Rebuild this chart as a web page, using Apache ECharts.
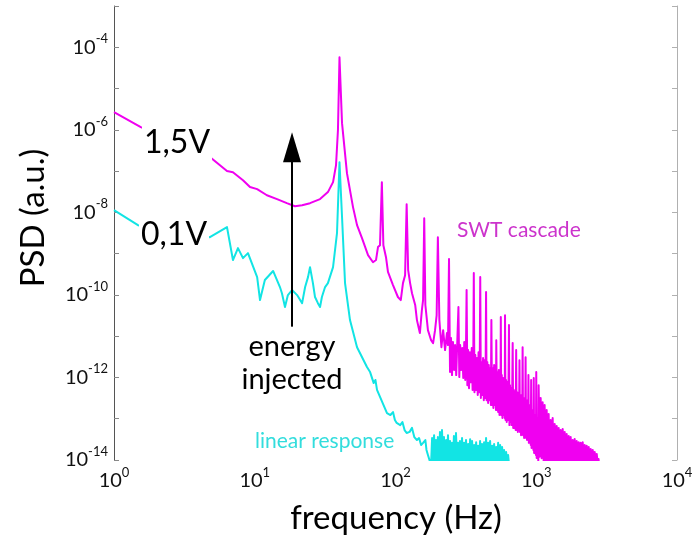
<!DOCTYPE html>
<html>
<head>
<meta charset="utf-8">
<script src="https://cdn.jsdelivr.net/npm/echarts@6/dist/echarts.min.js"></script>
<style>
  html, body { margin: 0; padding: 0; background: #fff; }
  #chart { width: 694px; height: 538px; }
</style>
</head>
<body>
<div id="chart"></div>
<script>
// Power spectral density of the surface-wave signal at two drive amplitudes.
// Frequencies in Hz, PSD in arbitrary units.

// 1,5 V drive: carrier at 40 Hz plus its harmonic cascade (one row per harmonic gap above 240 Hz)
const freq15 = [
  1, 1.55, 4.8, 6.35, 7.0, 8.25, 9.25, 10.4, 12.2, 14.4, 16.9, 19.3, 21.7, 24.7, 29.1, 33.1, 36.0, 37.8, 39.0, 40,
  41.7, 45.2, 49.9, 53.3, 57.8, 63.8, 69.2, 72.7, 75.1, 77.6, 80, 82, 85.6, 88.4, 96, 104, 109, 113, 117, 120,
  123, 127, 131, 138, 142, 149, 154, 157, 160, 163, 170, 179, 185, 191, 196, 200, 205, 212, 218, 225,
  232, 236, 240,
  244, 248, 252, 256, 261, 265, 270, 275, 280,
  284, 288, 293, 298, 303, 308, 313, 317, 320,
  324, 328, 333, 338, 343, 348, 353, 357, 360,
  364, 369, 374, 379, 384, 389, 394, 397, 400,
  404, 409, 414, 419, 424, 429, 434, 437, 440,
  444, 449, 455, 460, 466, 471, 476, 480,
  485, 490, 496, 502, 508, 513, 517, 520,
  525, 530, 536, 542, 548, 554, 557, 560,
  564, 569, 575, 581, 587, 593, 597, 600,
  605, 611, 617, 623, 629, 635, 640,
  645, 651, 657, 663, 669, 675, 680,
  686, 693, 700, 707, 714, 720,
  726, 733, 740, 747, 754, 760,
  766, 773, 780, 787, 794, 800,
  806, 813, 820, 827, 834, 840,
  846, 853, 860, 867, 874, 880,
  886, 893, 900, 907, 914, 920,
  926, 933, 940, 947, 954, 960,
  966, 973, 980, 987, 994, 1000,
  1007, 1014, 1021, 1028, 1034, 1040,
  1057, 1075, 1092, 1110, 1129, 1147, 1166, 1186, 1205, 1225,
  1245, 1266, 1287, 1308, 1330, 1352, 1374, 1397, 1420, 1443,
  1467, 1491, 1516, 1541, 1566, 1592, 1618, 1645, 1672, 1700,
  1728, 1756, 1785, 1815, 1845, 1875, 1906, 1938, 1970, 2002,
  2035, 2069, 2103, 2138, 2173, 2209, 2246, 2283, 2320, 2359,
  2398, 2437, 2478, 2519, 2560, 2602, 2645, 2689, 2734, 2770,
  2790
];
const psd15 = [
  2.7e-6, 1.16e-6, 2.2e-7, 1.0e-7, 9.4e-8, 6.0e-8, 4.1e-8, 3.65e-8, 2.6e-8, 2.1e-8, 1.67e-8, 1.41e-8, 1.49e-8, 1.67e-8, 2.1e-8, 3.1e-8, 5.4e-8, 1.39e-7, 9.8e-7, 5.7e-5,
  1.45e-6, 8.9e-8, 1.34e-8, 4.9e-9, 2.37e-9, 9.2e-10, 6.2e-10, 7.0e-10, 1.44e-9, 1.6e-9, 5.4e-8, 1.6e-9, 8.2e-10, 3.6e-10, 1.73e-10, 8.9e-11, 7.5e-11, 1.93e-10, 3.0e-10, 1.58e-8,
  4.0e-10, 1.93e-10, 1.1e-10, 5.7e-11, 2.45e-11, 1.19e-11, 4.3e-11, 7.5e-11, 7.2e-9, 5.7e-11, 1.4e-11, 8.0e-12, 6.8e-12, 1.4e-11, 3.2e-11, 2.5e-9, 2.45e-11, 5.4e-12, 1.4e-11, 4.6e-12,
  1.19e-11, 6.1e-12, 7.4e-10,
  1.35e-12, 9.0e-12, 1.14e-12, 7.2e-12, 1.51e-12, 6.1e-12, 1.14e-12, 8.0e-12, 5.1e-11,
  1.02e-12, 6.1e-12, 1.51e-12, 5.15e-12, 9.7e-13, 7.2e-12, 8.7e-13, 6.1e-12, 1.31e-10,
  6.5e-13, 4.6e-12, 5.5e-13, 4.1e-12, 7.7e-13, 5.15e-12, 5.0e-13, 3.5e-12, 3.4e-10,
  4.4e-13, 3.5e-12, 5.0e-13, 2.95e-12, 3.75e-13, 4.1e-12, 4.4e-13, 2.6e-12, 2.7e-10,
  3.17e-13, 2.36e-12, 3.75e-13, 2.95e-12, 2.8e-13, 2.6e-12, 3.17e-13, 2.0e-12, 1.17e-10,
  2.8e-13, 2.36e-12, 2.4e-13, 2.0e-12, 2.8e-13, 1.69e-12, 2.15e-13, 2.45e-11,
  2.15e-13, 1.69e-12, 1.82e-13, 2.0e-12, 2.15e-13, 1.51e-12, 1.62e-13, 8.0e-12,
  1.62e-13, 1.35e-12, 1.45e-13, 1.51e-12, 1.23e-13, 1.14e-12, 1.45e-13, 2.9e-11,
  1.23e-13, 1.14e-12, 1.04e-13, 9.7e-13, 1.23e-13, 8.7e-13, 1.04e-13, 3.2e-11,
  9.3e-14, 8.7e-13, 8.3e-14, 7.7e-13, 9.3e-14, 6.5e-13, 1.86e-11,
  7.0e-14, 6.5e-13, 8.3e-14, 5.5e-13, 7.0e-14, 5.0e-13, 6.8e-12,
  6.0e-14, 5.0e-13, 6.0e-14, 4.4e-13, 5.3e-14, 4.6e-12,
  5.3e-14, 4.4e-13, 4.8e-14, 3.75e-13, 5.3e-14, 2.6e-12,
  4.8e-14, 3.75e-13, 4.0e-14, 3.17e-13, 4.8e-14, 5.4e-12,
  4.0e-14, 3.17e-13, 3.4e-14, 2.8e-13, 4.0e-14, 3.1e-12,
  3.4e-14, 2.8e-13, 3.05e-14, 2.4e-13, 3.4e-14, 1.14e-12,
  2.6e-14, 2.15e-13, 3.05e-14, 1.82e-13, 2.3e-14, 8.7e-13,
  1.95e-14, 1.62e-13, 2.3e-14, 1.45e-13, 1.75e-14, 9.7e-13,
  1.48e-14, 1.23e-13, 1.75e-14, 1.23e-13, 1.32e-14, 1.35e-12,
  1.12e-14, 1.04e-13, 1.32e-14, 9.3e-14, 8e-15, 6.5e-13,
  1.2e-14, 3.17e-13, 1.1e-14, 2.5e-13, 8e-15, 2.15e-13, 8e-15, 1.62e-13, 8e-15, 1.3e-13,
  8e-15, 9.3e-14, 8e-15, 1.04e-13, 8e-15, 7.4e-14, 8e-15, 6.65e-14, 8e-15, 6.0e-14,
  8e-15, 5.3e-14, 8e-15, 5.6e-14, 8e-15, 4.8e-14, 8e-15, 4.27e-14, 8e-15, 3.8e-14,
  8e-15, 3.6e-14, 8e-15, 3.05e-14, 8e-15, 3.22e-14, 8e-15, 2.88e-14, 8e-15, 2.7e-14,
  8e-15, 2.6e-14, 8e-15, 2.7e-14, 8e-15, 2.3e-14, 8e-15, 2.2e-14, 8e-15, 2.06e-14,
  8e-15, 1.85e-14, 8e-15, 1.75e-14, 8e-15, 1.56e-14, 8e-15, 1.4e-14, 8e-15, 1.06e-14,
  8e-15
];

// 0,1 V drive: linear response around the 40 Hz carrier, then the noise floor
const freq01 = [
  1, 1.48, 4.8, 6.35, 7.0, 7.6, 8.25, 8.95, 10.4, 10.9, 11.8, 13.5, 15.1, 15.6, 16.4,
  17.2, 18.4, 20.0, 21.7, 22.8, 23.9, 24.7, 25.9, 26.8, 28.1, 29.1, 30.0, 31.6, 33.1, 36.0,
  38.4, 40, 41.7, 43.8, 47.5, 53.3, 62.7, 66, 70, 72, 73.9, 87, 92, 96, 99, 102,
  108, 112, 116, 120, 126, 131, 136, 142, 147, 152, 157, 163, 166, 170, 176,
  179, 182, 185, 188, 191, 194, 197, 200, 204, 207,
  211, 214, 218, 221, 225, 229, 232, 236, 240, 244,
  248, 252, 256, 260, 265, 269, 274, 278, 283, 287,
  292, 297, 302, 307, 312, 317, 322, 328, 333, 339,
  344, 350, 356, 362, 368, 374, 380, 386, 393, 399,
  406, 412, 419, 426, 433, 440, 448, 455, 463, 470,
  478, 486, 494, 502, 510, 519, 527, 536, 545, 554,
  563, 572, 582, 591, 601, 611, 621, 631, 640
];
const psd01 = [
  1.13e-8, 4.9e-9, 2.5e-9, 4.4e-9, 7.0e-10, 1.36e-9, 7.8e-10, 1.03e-9, 2.7e-10, 7.5e-11, 2.3e-10, 3.8e-10, 1.55e-10, 1.1e-10, 5.1e-11,
  9.9e-11, 1.31e-10, 9.9e-11, 6.3e-11, 1.55e-10, 2.7e-10, 4.7e-10, 1.93e-10, 8.9e-11, 6.3e-11, 5.1e-11, 8.9e-11, 1.55e-10, 1.93e-10, 4.7e-10,
  3.13e-9, 1.64e-7, 7.7e-9, 1.93e-10, 2.45e-11, 5.4e-12, 1.79e-12, 1.35e-12, 7.3e-13, 8.7e-13, 5.0e-13, 1.37e-13, 1.23e-13, 1.45e-13, 9.3e-14, 7.9e-14,
  7.0e-14, 8.3e-14, 5.3e-14, 4.5e-14, 4.8e-14, 6.0e-14, 3.6e-14, 3.05e-14, 3.4e-14, 2.3e-14, 2.6e-14, 3.05e-14, 1.75e-14, 1.32e-14, 9e-15,
  8e-15, 3.4e-14, 8e-15, 4.0e-14, 8e-15, 3.05e-14, 8e-15, 3.6e-14, 8e-15, 4.8e-14,
  8e-15, 5.3e-14, 8e-15, 3.6e-14, 8e-15, 3.05e-14, 8e-15, 4.0e-14, 8e-15, 2.9e-14,
  8e-15, 2.6e-14, 8e-15, 3.8e-14, 8e-15, 4.5e-14, 8e-15, 2.6e-14, 8e-15, 2.9e-14,
  8e-15, 3.4e-14, 8e-15, 2.6e-14, 8e-15, 3.05e-14, 8e-15, 2.44e-14, 8e-15, 3.2e-14,
  8e-15, 2.9e-14, 8e-15, 2.3e-14, 8e-15, 2.7e-14, 8e-15, 2.2e-14, 8e-15, 2.9e-14,
  8e-15, 2.44e-14, 8e-15, 2.7e-14, 8e-15, 3.4e-14, 8e-15, 2.6e-14, 8e-15, 2.9e-14,
  8e-15, 2.2e-14, 8e-15, 2.44e-14, 8e-15, 2.06e-14, 8e-15, 2.6e-14, 8e-15, 2.3e-14,
  8e-15, 2.06e-14, 8e-15, 1.75e-14, 8e-15, 1.56e-14, 8e-15, 1.32e-14, 8e-15
];

// Axis ranges (powers of ten)
const xMinExp = 0, xMaxExp = 4;
const yMinExp = -14, yMaxExp = -3;

// "energy injected" arrow, in data units
const arrowFreq = 18.4;
const arrowFrom = 1.7e-11;
const arrowTo = 8.7e-7;

const MAGENTA = '#f000f0';
const CYAN = '#12e4e4';
const FONT = 'Lato';

const pairs = (f, p) => f.map((v, i) => [v, p[i]]);

function powLabel(v, everyOther) {
  const e = Math.round(Math.log10(v));
  if (everyOther && e % 2 !== 0) return '';
  return '{b|10}{s|' + e + '}';
}
const richPow = {
  b: { fontSize: 20, fontFamily: FONT, lineHeight: 30, color: '#111' },
  s: { fontSize: 13, fontFamily: FONT, lineHeight: 14, verticalAlign: 'top', color: '#111' }
};

const chart = echarts.init(document.getElementById('chart'), null, { renderer: 'canvas' });

chart.setOption({
  animation: false,
  backgroundColor: '#fff',
  grid: { left: 114, right: 17, top: 6, bottom: 78, containLabel: false, outerBoundsMode: 'none' },
  xAxis: {
    type: 'log', logBase: 10,
    min: Math.pow(10, xMinExp), max: Math.pow(10, xMaxExp), interval: 1,
    axisLine: { show: false },
    axisTick: { show: false },
    splitLine: { show: false },
    axisLabel: { formatter: v => powLabel(v, false), rich: richPow, margin: 6 }
  },
  yAxis: [
    {
      type: 'log', logBase: 10, position: 'left',
      min: Math.pow(10, yMinExp), max: Math.pow(10, yMaxExp), interval: 1,
      axisLine: { show: true, lineStyle: { color: '#555', width: 1 } },
      axisTick: { show: true, inside: true, length: 5, lineStyle: { color: '#888' } },
      splitLine: { show: false },
      axisLabel: { formatter: v => powLabel(v, true), rich: richPow, margin: 6 }
    },
    {
      type: 'log', logBase: 10, position: 'right',
      min: Math.pow(10, yMinExp), max: Math.pow(10, yMaxExp), interval: 1,
      axisLine: { show: true, lineStyle: { color: '#b0b0b0', width: 1 } },
      axisTick: { show: true, inside: true, length: 5, lineStyle: { color: '#b0b0b0' } },
      splitLine: { show: false },
      axisLabel: { show: false }
    }
  ],
  series: [
    {
      name: '1,5V', type: 'line', data: pairs(freq15, psd15),
      showSymbol: false, clip: true, z: 3,
      lineStyle: { color: MAGENTA, width: 2, join: 'round' }
    },
    {
      name: '0,1V', type: 'line', data: pairs(freq01, psd01),
      showSymbol: false, clip: true, z: 4,
      lineStyle: { color: CYAN, width: 2, join: 'round' }
    }
  ]
});

// Annotations: axis titles, curve tags and the energy-injection arrow
const tail = chart.convertToPixel({ gridIndex: 0 }, [arrowFreq, arrowFrom]);
const tip = chart.convertToPixel({ gridIndex: 0 }, [arrowFreq, arrowTo]);
const headLen = 30, headHalf = 9;

const txt = (text, x, y, size, color, align, extra) => ({
  type: 'text', x: x, y: y, z: 100,
  style: Object.assign({
    text: text, fill: color, font: size + 'px ' + FONT,
    textAlign: align, textVerticalAlign: 'middle'
  }, extra || {})
});

chart.setOption({
  graphic: [
    txt('frequency (Hz)', 396, 518, 33, '#000', 'center'),
    Object.assign(txt('PSD (a.u.)', 33, 218, 33, '#000', 'center'), { rotation: Math.PI / 2 }),
    txt('1,5V', 142, 143, 32, '#000', 'left', { backgroundColor: '#fff', padding: [3, 2, 3, 2] }),
    txt('0,1V', 139, 235, 32, '#000', 'left', { backgroundColor: '#fff', padding: [3, 2, 3, 2] }),
    txt('energy', 292, 347, 29, '#000', 'center'),
    txt('injected', 292, 380, 29, '#000', 'center'),
    txt('SWT cascade', 457, 230, 21, '#cc33cc', 'left'),
    txt('linear response', 255, 441, 21, '#33dddd', 'left'),
    {
      type: 'line', z: 100,
      shape: { x1: tail[0], y1: tail[1], x2: tip[0], y2: tip[1] + headLen - 2 },
      style: { stroke: '#000', lineWidth: 2 }
    },
    {
      type: 'polygon', z: 100,
      shape: { points: [[tip[0], tip[1]], [tip[0] - headHalf, tip[1] + headLen], [tip[0] + headHalf, tip[1] + headLen]] },
      style: { fill: '#000' }
    }
  ]
});
</script>
</body>
</html>
